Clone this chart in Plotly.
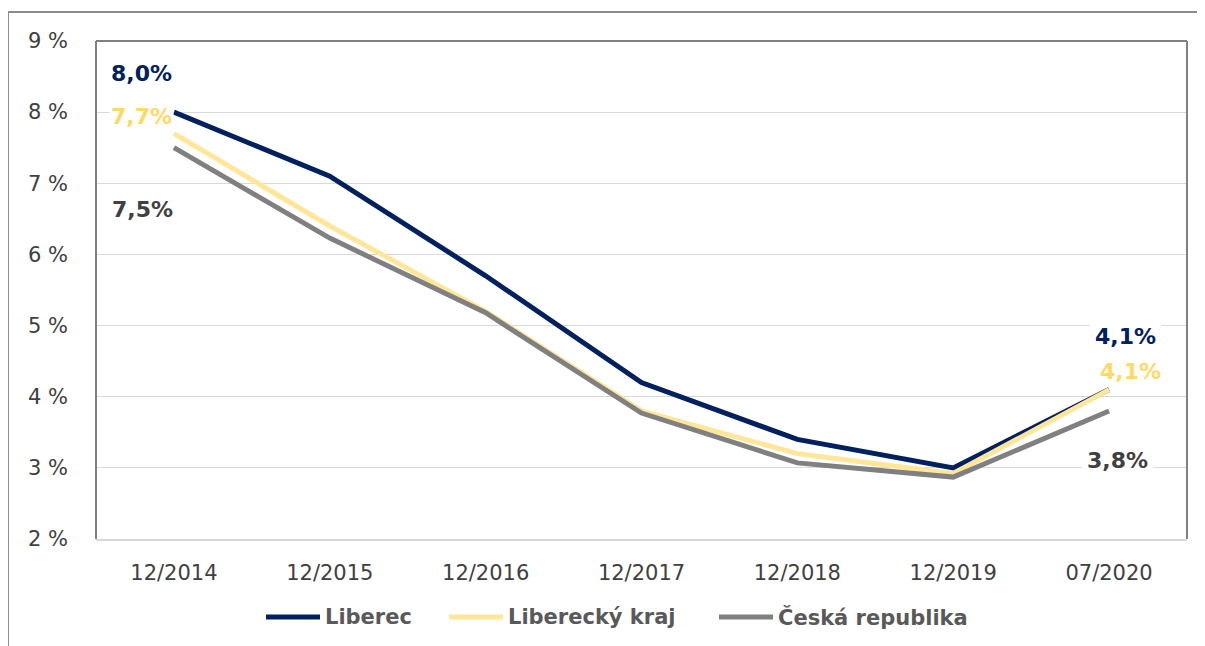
import plotly.graph_objects as go

categories = ["12/2014", "12/2015", "12/2016", "12/2017", "12/2018", "12/2019", "07/2020"]
liberec = [8.0, 7.1, 5.7, 4.2, 3.4, 3.0, 4.1]
kraj = [7.7, 6.4, 5.2, 3.8, 3.2, 2.92, 4.1]
cr = [7.5, 6.23, 5.18, 3.77, 3.07, 2.87, 3.8]
series_names = ["Liberec", "Liberecký kraj", "Česká republika"]
y_ticks = [2, 3, 4, 5, 6, 7, 8, 9]

NAVY = "#002060"
GOLD = "#FFE699"
GOLD_TXT = "#FFD966"
GRAY = "#808080"
DARK = "#404040"
FONT = "Verdana, DejaVu Sans, sans-serif"
series_colors = [NAVY, GOLD, GRAY]

# page has 8px body margin; figure drawn from (8,8)
OFF = 8
W, H = 1205 - OFF, 646 - OFF
L, R, T, B = 96 - OFF, 1187 - OFF, 41 - OFF, 539 - OFF

fig = go.Figure()
for name, vals, col in zip(series_names, [liberec, kraj, cr], series_colors):
    fig.add_trace(go.Scatter(x=categories, y=vals, name=name, mode="lines",
                             line=dict(color=col, width=5), showlegend=False))

def lab(x, y, text, color, xshift, yshift, pad=1):
    fig.add_annotation(x=x, y=y, text=text, showarrow=False, xref="x", yref="y",
                       xshift=xshift, yshift=yshift, bgcolor="white", borderpad=pad,
                       font=dict(family=FONT, size=22, color=color, weight="bold"))

lab(categories[0], liberec[0], "8,0%", NAVY, -32, 39)
lab(categories[0], kraj[0], "7,7%", GOLD_TXT, -32, 17)
lab(categories[0], cr[0], "7,5%", DARK, -31, -62)
lab(categories[-1], liberec[-1], "4,1%", NAVY, 16, 53, pad=5)
lab(categories[-1], kraj[-1], "4,1%", GOLD_TXT, 21, 18)
lab(categories[-1], cr[-1], "3,8%", DARK, 8, -50, pad=5)

def px_x(p):
    return (p - OFF - L) / (R - L)

def px_y(p):
    return (B - (p - OFF)) / (B - T)

# outer chart border (top and left)
fig.add_shape(type="line", xref="paper", yref="paper", x0=px_x(8), x1=px_x(1215),
              y0=px_y(12), y1=px_y(12), line=dict(color="#8c8c8c", width=2))
fig.add_shape(type="line", xref="paper", yref="paper", x0=px_x(8), x1=px_x(8),
              y0=px_y(12), y1=px_y(660), line=dict(color="#8c8c8c", width=2))
# plot area border: left, top, right gray
fig.add_shape(type="line", xref="paper", yref="paper", x0=0, x1=1, y0=1, y1=1,
              line=dict(color=GRAY, width=2))
fig.add_shape(type="line", xref="paper", yref="paper", x0=0, x1=0, y0=0, y1=1,
              line=dict(color=GRAY, width=2))
fig.add_shape(type="line", xref="paper", yref="paper", x0=1, x1=1, y0=0, y1=1,
              line=dict(color=GRAY, width=2))

# legend (Excel-style long line samples)
legend_starts = [266, 449, 719]
LEG_Y = 617
for name, col, x0 in zip(series_names, series_colors, legend_starts):
    fig.add_shape(type="line", xref="paper", yref="paper", x0=px_x(x0), x1=px_x(x0 + 54),
                  y0=px_y(LEG_Y), y1=px_y(LEG_Y), line=dict(color=col, width=5))
    fig.add_annotation(x=px_x(x0 + 57), y=px_y(LEG_Y), xref="paper", yref="paper",
                       text=name, showarrow=False, xanchor="left", yanchor="middle",
                       font=dict(family=FONT, size=21, color="#595959", weight="bold"))

fig.update_layout(
    width=W, height=H,
    margin=dict(l=L, r=W - R, t=T, b=H - B),
    paper_bgcolor="white", plot_bgcolor="white",
    font=dict(family=FONT, color=DARK),
    showlegend=False,
    xaxis=dict(type="category", range=[-0.5, 6.5], showgrid=False, showline=True,
               linecolor="#d9d9d9", linewidth=2, ticks="", ticklabelstandoff=14,
               tickfont=dict(family=FONT, size=21, color=DARK), fixedrange=True),
    yaxis=dict(range=[2, 9], tickvals=y_ticks, ticktext=[f"{v} %" for v in y_ticks],
               showgrid=True, gridcolor="#d9d9d9", gridwidth=1, zeroline=False,
               showline=False, ticks="", ticklabelstandoff=27,
               tickfont=dict(family=FONT, size=21, color=DARK), fixedrange=True),
)

fig.write_html("out.html")
